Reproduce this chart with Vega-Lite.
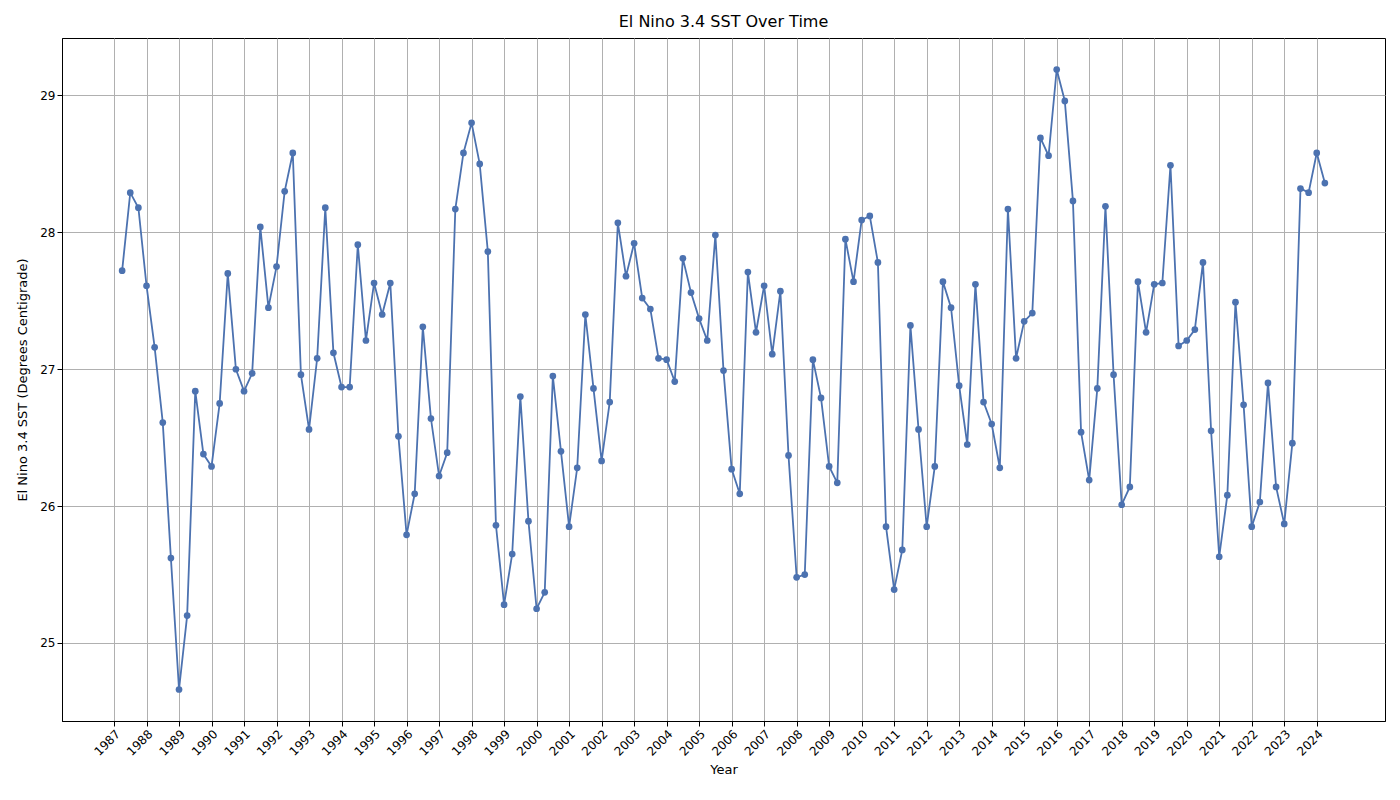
{
"$schema":"https://vega.github.io/schema/vega-lite/v6.json",
"width":1323,"height":683,
"autosize":{"type":"none"},
"padding":{"left":62,"top":38,"right":15,"bottom":79},
"background":"white",
"title":{"text":"El Nino 3.4 SST Over Time","fontSize":16,"fontWeight":"normal","font":"DejaVu Sans","offset":8,"color":"black"},
"config":{"view":{"stroke":"black","strokeWidth":1},"axis":{"labelFont":"DejaVu Sans","titleFont":"DejaVu Sans","labelFontSize":12,"titleFontSize":13,"titleFontWeight":"normal","gridColor":"#b0b0b0","gridWidth":1,"domainColor":"black","tickColor":"black","labelColor":"black","titleColor":"black"}},
"data":{"values":[
{"t":1987.25,"v":27.72},{"t":1987.5,"v":28.29},{"t":1987.75,"v":28.18},{"t":1988.0,"v":27.61},
{"t":1988.25,"v":27.16},{"t":1988.5,"v":26.61},{"t":1988.75,"v":25.62},{"t":1989.0,"v":24.66},
{"t":1989.25,"v":25.2},{"t":1989.5,"v":26.84},{"t":1989.75,"v":26.38},{"t":1990.0,"v":26.29},
{"t":1990.25,"v":26.75},{"t":1990.5,"v":27.7},{"t":1990.75,"v":27.0},{"t":1991.0,"v":26.84},
{"t":1991.25,"v":26.97},{"t":1991.5,"v":28.04},{"t":1991.75,"v":27.45},{"t":1992.0,"v":27.75},
{"t":1992.25,"v":28.3},{"t":1992.5,"v":28.58},{"t":1992.75,"v":26.96},{"t":1993.0,"v":26.56},
{"t":1993.25,"v":27.08},{"t":1993.5,"v":28.18},{"t":1993.75,"v":27.12},{"t":1994.0,"v":26.87},
{"t":1994.25,"v":26.87},{"t":1994.5,"v":27.91},{"t":1994.75,"v":27.21},{"t":1995.0,"v":27.63},
{"t":1995.25,"v":27.4},{"t":1995.5,"v":27.63},{"t":1995.75,"v":26.51},{"t":1996.0,"v":25.79},
{"t":1996.25,"v":26.09},{"t":1996.5,"v":27.31},{"t":1996.75,"v":26.64},{"t":1997.0,"v":26.22},
{"t":1997.25,"v":26.39},{"t":1997.5,"v":28.17},{"t":1997.75,"v":28.58},{"t":1998.0,"v":28.8},
{"t":1998.25,"v":28.5},{"t":1998.5,"v":27.86},{"t":1998.75,"v":25.86},{"t":1999.0,"v":25.28},
{"t":1999.25,"v":25.65},{"t":1999.5,"v":26.8},{"t":1999.75,"v":25.89},{"t":2000.0,"v":25.25},
{"t":2000.25,"v":25.37},{"t":2000.5,"v":26.95},{"t":2000.75,"v":26.4},{"t":2001.0,"v":25.85},
{"t":2001.25,"v":26.28},{"t":2001.5,"v":27.4},{"t":2001.75,"v":26.86},{"t":2002.0,"v":26.33},
{"t":2002.25,"v":26.76},{"t":2002.5,"v":28.07},{"t":2002.75,"v":27.68},{"t":2003.0,"v":27.92},
{"t":2003.25,"v":27.52},{"t":2003.5,"v":27.44},{"t":2003.75,"v":27.08},{"t":2004.0,"v":27.07},
{"t":2004.25,"v":26.91},{"t":2004.5,"v":27.81},{"t":2004.75,"v":27.56},{"t":2005.0,"v":27.37},
{"t":2005.25,"v":27.21},{"t":2005.5,"v":27.98},{"t":2005.75,"v":26.99},{"t":2006.0,"v":26.27},
{"t":2006.25,"v":26.09},{"t":2006.5,"v":27.71},{"t":2006.75,"v":27.27},{"t":2007.0,"v":27.61},
{"t":2007.25,"v":27.11},{"t":2007.5,"v":27.57},{"t":2007.75,"v":26.37},{"t":2008.0,"v":25.48},
{"t":2008.25,"v":25.5},{"t":2008.5,"v":27.07},{"t":2008.75,"v":26.79},{"t":2009.0,"v":26.29},
{"t":2009.25,"v":26.17},{"t":2009.5,"v":27.95},{"t":2009.75,"v":27.64},{"t":2010.0,"v":28.09},
{"t":2010.25,"v":28.12},{"t":2010.5,"v":27.78},{"t":2010.75,"v":25.85},{"t":2011.0,"v":25.39},
{"t":2011.25,"v":25.68},{"t":2011.5,"v":27.32},{"t":2011.75,"v":26.56},{"t":2012.0,"v":25.85},
{"t":2012.25,"v":26.29},{"t":2012.5,"v":27.64},{"t":2012.75,"v":27.45},{"t":2013.0,"v":26.88},
{"t":2013.25,"v":26.45},{"t":2013.5,"v":27.62},{"t":2013.75,"v":26.76},{"t":2014.0,"v":26.6},
{"t":2014.25,"v":26.28},{"t":2014.5,"v":28.17},{"t":2014.75,"v":27.08},{"t":2015.0,"v":27.35},
{"t":2015.25,"v":27.41},{"t":2015.5,"v":28.69},{"t":2015.75,"v":28.56},{"t":2016.0,"v":29.19},
{"t":2016.25,"v":28.96},{"t":2016.5,"v":28.23},{"t":2016.75,"v":26.54},{"t":2017.0,"v":26.19},
{"t":2017.25,"v":26.86},{"t":2017.5,"v":28.19},{"t":2017.75,"v":26.96},{"t":2018.0,"v":26.01},
{"t":2018.25,"v":26.14},{"t":2018.5,"v":27.64},{"t":2018.75,"v":27.27},{"t":2019.0,"v":27.62},
{"t":2019.25,"v":27.63},{"t":2019.5,"v":28.49},{"t":2019.75,"v":27.17},{"t":2020.0,"v":27.21},
{"t":2020.25,"v":27.29},{"t":2020.5,"v":27.78},{"t":2020.75,"v":26.55},{"t":2021.0,"v":25.63},
{"t":2021.25,"v":26.08},{"t":2021.5,"v":27.49},{"t":2021.75,"v":26.74},{"t":2022.0,"v":25.85},
{"t":2022.25,"v":26.03},{"t":2022.5,"v":26.9},{"t":2022.75,"v":26.14},{"t":2023.0,"v":25.87},
{"t":2023.25,"v":26.46},{"t":2023.5,"v":28.32},{"t":2023.75,"v":28.29},{"t":2024.0,"v":28.58},
{"t":2024.25,"v":28.36}
]},
"encoding":{
"x":{"field":"t","type":"quantitative","title":"Year","scale":{"domain":[1985.4,2026.1],"nice":false,"zero":false},
 "axis":{"values":[1987,1988,1989,1990,1991,1992,1993,1994,1995,1996,1997,1998,1999,2000,2001,2002,2003,2004,2005,2006,2007,2008,2009,2010,2011,2012,2013,2014,2015,2016,2017,2018,2019,2020,2021,2022,2023,2024],"format":"d","labelAngle":-45,"labelAlign":"right","labelBaseline":"top","tickSize":5,"labelPadding":2,"titlePadding":6}},
"y":{"field":"v","type":"quantitative","title":"El Nino 3.4 SST (Degrees Centigrade)","scale":{"domain":[24.43,29.42],"nice":false,"zero":false},
 "axis":{"values":[25,26,27,28,29],"tickSize":5,"titlePadding":10}}
},
"layer":[
{"mark":{"type":"line","color":"#4c72b0","strokeWidth":1.8}},
{"mark":{"type":"circle","color":"#4c72b0","opacity":1,"size":45}}
]
}
